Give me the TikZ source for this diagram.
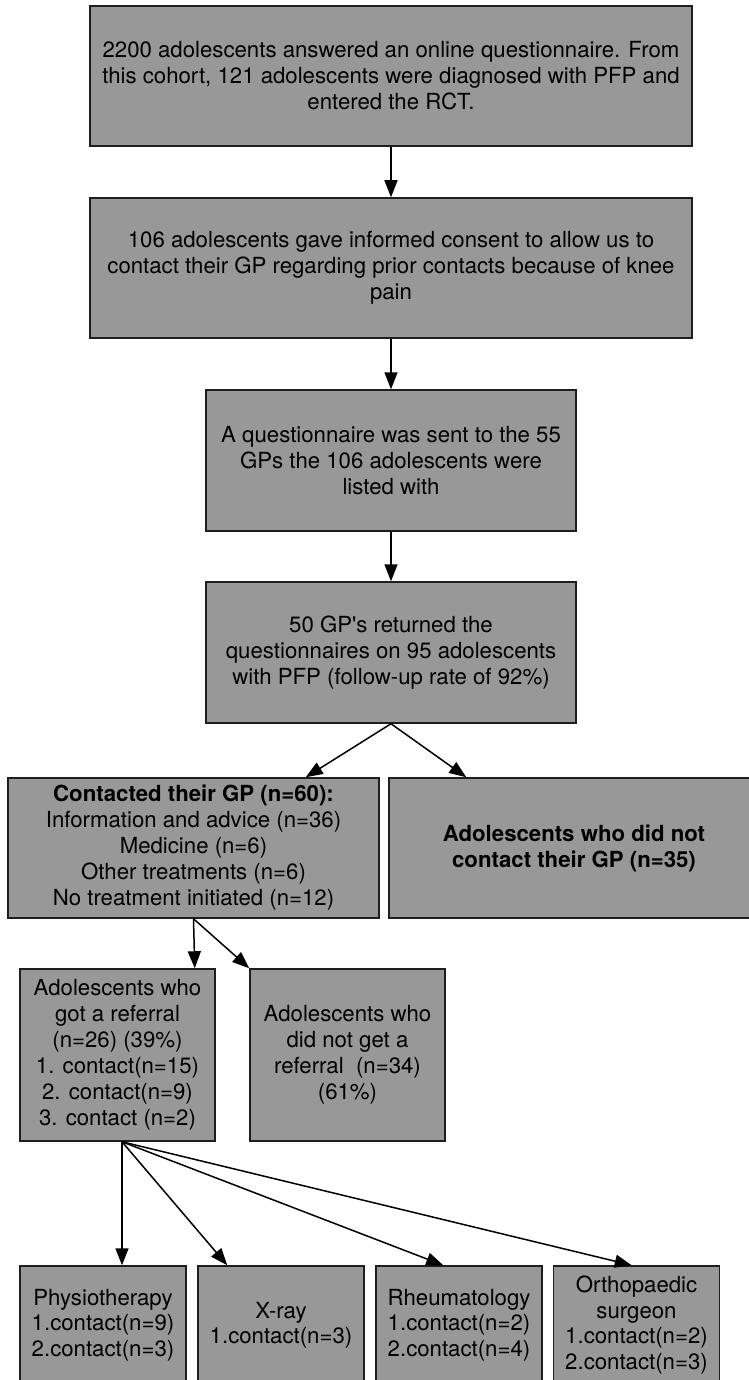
\documentclass[tikz,border=0pt]{standalone}
\usepackage{fontspec}
\setmainfont{TeX Gyre Heros}
\usetikzlibrary{arrows.meta}
\definecolor{boxgray}{RGB}{152,152,152}
\definecolor{boxline}{RGB}{30,30,30}
\tikzset{
  box/.style={draw=boxline, fill=boxgray, line width=1.5pt, rectangle, inner sep=0pt,
    align=center, font=\fontsize{22.2}{26}\selectfont},
  sbox/.style={box, font=\fontsize{22.2}{25.5}\selectfont},
  arr/.style={draw=black, line width=1.5pt, -{Triangle[length=17pt,width=13pt]}}
}
\begin{document}
\begin{tikzpicture}[x=1pt,y=-1pt]
\path[fill=white,use as bounding box] (0,0) rectangle (748,1380);
\node[box, minimum width=602pt, minimum height=140pt] (b1) at (391,76)
  {2200 adolescents answered an online questionnaire. From\\this cohort, 121 adolescents were diagnosed with PFP and\\entered the RCT.};
\node[box, minimum width=602pt, minimum height=140pt] (b2) at (391,268)
  {106 adolescents gave informed consent to allow us to\\contact their GP regarding prior contacts because of knee\\pain};
\node[box, minimum width=370pt, minimum height=141pt] (b3) at (391,460.5)
  {A questionnaire was sent to the 55\\GPs the 106 adolescents were\\listed with};
\node[box, minimum width=370pt, minimum height=141pt] (b4) at (391,652.5)
  {50 GP\textquotesingle s returned the\\questionnaires on 95 adolescents\\with PFP (follow-up rate of 92\%)};
\node[box, minimum width=371pt, minimum height=140pt] (b5) at (193.5,848)
  {\textbf{Contacted their GP (n=60):}\\Information and advice (n=36)\\Medicine (n=6)\\Other treatments (n=6)\\No treatment initiated (n=12)};
\node[box, minimum width=370pt, minimum height=140pt] (b6) at (574,848)
  {\textbf{Adolescents who did not}\\\textbf{contact their GP (n=35)}};
\node[box, minimum width=195pt, minimum height=172pt] (b7) at (117.5,1055)
  {Adolescents who\\got a referral\\(n=26) (39\%)\\1. contact(n=15)\\2. contact(n=9)\\3. contact (n=2)};
\node[box, minimum width=195pt, minimum height=172pt] (b8) at (347.5,1055)
  {Adolescents who\\did not get a\\referral\ \ (n=34)\\(61\%)};
\node[sbox, minimum width=166pt, minimum height=118pt] (b9) at (103,1325)
  {Physiotherapy\\1.contact(n=9)\\2.contact(n=3)};
\node[sbox, minimum width=166pt, minimum height=118pt] (b10) at (281,1325)
  {X-ray\\1.contact(n=3)};
\node[sbox, minimum width=166pt, minimum height=118pt] (b11) at (459,1325)
  {Rheumatology\\1.contact(n=2)\\2.contact(n=4)};
\node[sbox, minimum width=166pt, minimum height=118pt] (b12) at (636.5,1325)
  {Orthopaedic\\surgeon\\1.contact(n=2)\\2.contact(n=3)};
\draw[arr] (b1.south) -- (b2.north);
\draw[arr] (b2.south) -- (b3.north);
\draw[arr] (b3.south) -- (b4.north);
\draw[arr] (b4.south) -- ([xshift=-74pt]b5.north east);
\draw[arr] (b4.south) -- ([xshift=78pt]b6.north west);
\draw[arr] (b5.south) -- ([xshift=-21pt]b7.north east);
\draw[arr] (b5.south) -- (b8.north west);
\draw[arr] ([xshift=4.5pt]b7.south) -- ([xshift=19pt]b9.north);
\draw[arr] ([xshift=4.5pt]b7.south) -- ([xshift=30pt]b10.north west);
\draw[arr] ([xshift=4.5pt]b7.south) -- ([xshift=68pt]b11.north west);
\draw[arr] ([xshift=4.5pt]b7.south) -- ([xshift=79pt]b12.north west);
\end{tikzpicture}
\end{document}
